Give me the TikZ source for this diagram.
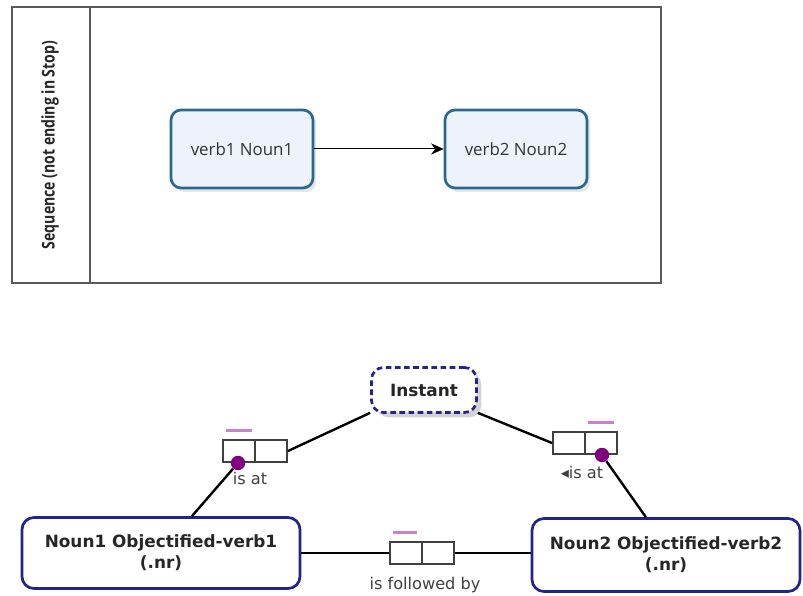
\documentclass[tikz,border=0pt]{standalone}
\usepackage{fontspec}
\setmainfont{Open Sans}
\newfontfamily\ormfont{DejaVu Sans}
\usetikzlibrary{arrows.meta,shadows}
\definecolor{lanegray}{RGB}{90,90,90}
\definecolor{taskblue}{RGB}{40,105,145}
\definecolor{taskfill}{RGB}{238,242,251}
\definecolor{ormnavy}{RGB}{35,35,140}
\definecolor{ormpurple}{RGB}{128,0,128}
\definecolor{ormpink}{RGB}{200,130,205}
\begin{document}
\begin{tikzpicture}[
  task/.style={draw=taskblue,line width=1.9pt,rounded corners=0.25cm,fill=taskfill,
    minimum width=3.55cm,minimum height=1.95cm,font=\fontsize{12}{14}\selectfont,text=black!80,
    drop shadow={shadow xshift=0.08cm,shadow yshift=-0.1cm,opacity=0.2}},
  entity/.style={draw=ormnavy,line width=1.9pt,rounded corners=0.3cm,fill=white,
    align=center,font=\ormfont\bfseries\fontsize{12}{15}\selectfont,text=black!85},
  rolebox/.style={draw=black!75,line width=1.4pt,minimum width=1.6cm,minimum height=0.55cm,inner sep=0pt},
  rolelabel/.style={font=\ormfont\fontsize{11.5}{12}\selectfont,text=black!75},
  link/.style={line width=1.7pt},
  uniq/.style={ormpink,line width=2pt},
  mandot/.style={circle,fill=ormpurple,inner sep=0pt,minimum size=0.36cm}
]
\useasboundingbox (0,0) rectangle (20.075,14.875);

% swimlane
\draw[lanegray,line width=1.4pt] (0.3,7.8) rectangle (16.525,14.7);
\draw[lanegray,line width=1.4pt] (2.25,7.8)--(2.25,14.7);
\node[rotate=90,font=\bfseries\fontsize{12.5}{14}\selectfont,text=black!85] (lane) at (1.25,11.25) {\scalebox{0.8}[1]{Sequence (not ending in Stop)}};

\node[task] (t1) at (6.05,11.15) {verb1 Noun1};
\node[task] (t2) at (12.9,11.15) {verb2 Noun2};
\draw[-{Stealth[length=9pt,width=8pt]},line width=0.7pt] (t1)--(t2);

% orm part
\node[entity,minimum width=2.625cm,minimum height=1.125cm,dash pattern=on 4pt off 2.5pt,
  drop shadow={shadow xshift=0.12cm,shadow yshift=-0.12cm,opacity=0.35}] (inst) at (10.6,5.125) {Instant};
\node[entity,minimum width=6.95cm,minimum height=1.775cm] (n1) at (4.025,1.05) {Noun1 Objectified-verb1\\(.nr)};
\node[entity,minimum width=6.7cm,minimum height=1.825cm] (n2) at (16.65,1.0) {Noun2 Objectified-verb2\\(.nr)};

\node[rolebox] (r1) at (6.375,3.6) {};
\node[rolebox] (r2) at (14.625,3.8) {};
\node[rolebox] (f) at (10.55,1.05) {};
\draw[black!75,line width=1.4pt] (r1.north)--(r1.south) (r2.north)--(r2.south) (f.north)--(f.south);
\draw[uniq] ([xshift=0.1cm,yshift=0.22cm]r1.north west)--([xshift=-0.075cm,yshift=0.22cm]r1.north);
\draw[uniq] ([xshift=0.075cm,yshift=0.22cm]r2.north)--([xshift=-0.1cm,yshift=0.22cm]r2.north east);
\draw[uniq] ([xshift=0.1cm,yshift=0.22cm]f.north west)--([xshift=-0.125cm,yshift=0.22cm]f.north);

\node[rolelabel] (l1) at (6.25,2.925) {is at};
\node[rolelabel] (l2) at (14.55,3.075) {◂is at};
\node[rolelabel] (l3) at (10.625,0.25) {is followed by};

\draw[link] (r1.east)--(inst.203);
\draw[link] (inst.-23)--(r2.west);
\draw[link] (n1.east)--(f.west);
\draw[link] (f.east)--(f.east -| n2.west);
\node[mandot] (d1) at ([xshift=0.4cm]r1.south west) {};
\node[mandot] (d2) at ([xshift=-0.4cm]r2.south east) {};
\draw[link] (d1)--(n1.50);
\draw[link] (d2)--(n2.118);
\end{tikzpicture}
\end{document}
